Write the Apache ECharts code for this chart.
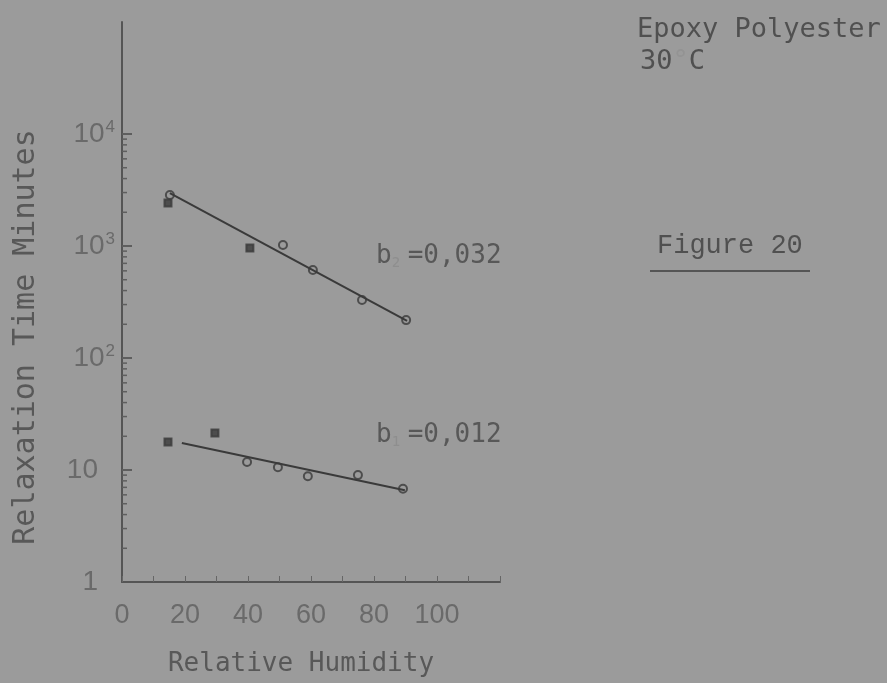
<!DOCTYPE html>
<html>
<head>
<meta charset="utf-8">
<script src="https://cdn.jsdelivr.net/npm/echarts@6/dist/echarts.min.js"></script>
<style>
  html, body { margin: 0; padding: 0; background: #9b9b9b; }
  #chart { width: 887px; height: 683px; }
</style>
</head>
<body>
<div id="chart"></div>
<script>
// upper curve, b2 = 0,032
const upperRH = [15.2, 14.6, 40.6, 51.1, 60.6, 76.2, 90.2];
const upperTime = [2850, 2420, 960, 1020, 610, 330, 218];
const upperFitRH = [15.2, 90.5];
const upperFitTime = [2970, 215];

// lower curve, b1 = 0,012
const lowerRH = [14.6, 29.5, 39.7, 49.5, 59.0, 74.9, 89.2];
const lowerTime = [17.8, 21.4, 11.8, 10.6, 8.8, 9.0, 6.8];
const lowerFitRH = [19.0, 89.8];
const lowerFitTime = [17.4, 6.6];

// axis labels
const xTickLabels = [0, 20, 40, 60, 80, 100];
const yDecades = [1, 10, 100, 1000, 10000];
const yDecadeLabels = ['1', '10', '10{sup|2}', '10{sup|3}', '10{sup|4}'];
const minorSteps = [2, 3, 4, 5, 6, 7, 8, 9];

const zip = (xs, ys) => xs.map((x, i) => [x, ys[i]]);

const ink = '#3a3a3a';
const labelGrey = '#6a6a6a';
const textGrey = '#585858';
const filledUpper = [1, 2];
const filledLower = [0, 1];

// tick marks on the log axis: majors at decades, minors at 2..9
const yTicks = [];
yDecades.slice(1).forEach(d => yTicks.push([0, d, 1]));
yDecades.slice(0, 4).forEach(d => minorSteps.forEach(m => yTicks.push([0, d * m, 0])));

const markerSeries = (data, filled) => ({
  type: 'scatter',
  data: data,
  symbol: (val, p) => (filled.indexOf(p.dataIndex) >= 0 ? 'rect' : 'circle'),
  symbolSize: (val, p) => (filled.indexOf(p.dataIndex) >= 0 ? 7 : 8),
  itemStyle: {
    color: p => (filled.indexOf(p.dataIndex) >= 0 ? ink : 'rgba(0,0,0,0)'),
    borderColor: ink,
    borderWidth: 2
  }
});

const chart = echarts.init(document.getElementById('chart'));

const option = {
  backgroundColor: '#9b9b9b',
  animation: false,
  grid: { left: 122, right: 387, top: 22, bottom: 101 },
  xAxis: {
    type: 'value',
    min: 0,
    max: 120,
    interval: 10,
    splitLine: { show: false },
    axisLine: { lineStyle: { color: '#555555', width: 2 } },
    axisTick: { inside: true, length: 6, lineStyle: { color: '#666666' } },
    axisLabel: {
      margin: 20,
      color: labelGrey,
      fontFamily: 'Liberation Sans',
      fontSize: 27,
      formatter: v => (xTickLabels.indexOf(v) >= 0 ? String(v) : '')
    }
  },
  yAxis: {
    type: 'log',
    min: 1,
    max: 100000,
    logBase: 10,
    splitLine: { show: false },
    axisLine: { lineStyle: { color: '#555555', width: 2 } },
    axisTick: { show: false },
    axisLabel: {
      margin: 7,
      color: labelGrey,
      fontFamily: 'Liberation Sans',
      fontSize: 28,
      formatter: v => {
        const i = yDecades.indexOf(Math.round(v));
        return i >= 0 ? yDecadeLabels[i] + (i < 2 ? '{pad|}' : '') : '';
      },
      rich: {
        sup: { fontSize: 17, color: labelGrey, fontFamily: 'Liberation Sans', verticalAlign: 'top', padding: [0, 0, 14, 1] },
        pad: { width: 17 }
      }
    }
  },
  series: [
    {
      type: 'custom',
      silent: true,
      clip: false,
      data: yTicks,
      renderItem: (params, api) => {
        const p = api.coord([api.value(0), api.value(1)]);
        const len = api.value(2) ? 10 : 5;
        return {
          type: 'line',
          shape: { x1: p[0], y1: p[1], x2: p[0] + len, y2: p[1] },
          style: { stroke: '#5e5e5e', lineWidth: api.value(2) ? 2 : 1.5 }
        };
      }
    },
    {
      type: 'line',
      data: zip(upperFitRH, upperFitTime),
      symbol: 'none',
      lineStyle: { color: ink, width: 2 }
    },
    {
      type: 'line',
      data: zip(lowerFitRH, lowerFitTime),
      symbol: 'none',
      lineStyle: { color: ink, width: 2 }
    },
    markerSeries(zip(upperRH, upperTime), filledUpper),
    markerSeries(zip(lowerRH, lowerTime), filledLower)
  ],
  graphic: [
    {
      type: 'text',
      left: 637, top: 16,
      style: { text: 'Epoxy Polyester', fill: '#505050', font: '27px "DejaVu Sans Mono"' }
    },
    {
      type: 'text',
      left: 640, top: 48,
      style: {
        text: '30{deg|°}C',
        fill: '#505050',
        font: '27px "DejaVu Sans Mono"',
        rich: { deg: { fill: '#939393', font: '27px "DejaVu Sans Mono"' } }
      }
    },
    {
      type: 'text',
      left: 657, top: 232,
      style: { text: 'Figure 20', fill: '#505050', font: '27px "Liberation Mono"' }
    },
    {
      type: 'line',
      shape: { x1: 650, y1: 271, x2: 810, y2: 271 },
      style: { stroke: '#555555', lineWidth: 2 }
    },
    {
      type: 'text',
      left: 376, top: 243,
      style: {
        text: 'b{sub|2}=0,032',
        fill: textGrey,
        font: '26px "DejaVu Sans Mono"',
        rich: { sub: { fill: '#8e8e8e', font: '14px "DejaVu Sans Mono"', width: 16, padding: [14, 0, 0, 0] } }
      }
    },
    {
      type: 'text',
      left: 376, top: 422,
      style: {
        text: 'b{sub|1}=0,012',
        fill: textGrey,
        font: '26px "DejaVu Sans Mono"',
        rich: { sub: { fill: '#8e8e8e', font: '14px "DejaVu Sans Mono"', width: 16, padding: [14, 0, 0, 0] } }
      }
    },
    {
      type: 'text',
      x: 26, y: 337,
      rotation: Math.PI / 2,
      style: {
        text: 'Relaxation Time Minutes',
        fill: textGrey,
        font: '30px "DejaVu Sans Mono"',
        align: 'center',
        verticalAlign: 'middle'
      }
    },
    {
      type: 'text',
      x: 301, y: 664,
      style: {
        text: 'Relative Humidity',
        fill: textGrey,
        font: '26px "DejaVu Sans Mono"',
        align: 'center',
        verticalAlign: 'middle'
      }
    }
  ]
};

chart.setOption(option);
</script>
</body>
</html>
